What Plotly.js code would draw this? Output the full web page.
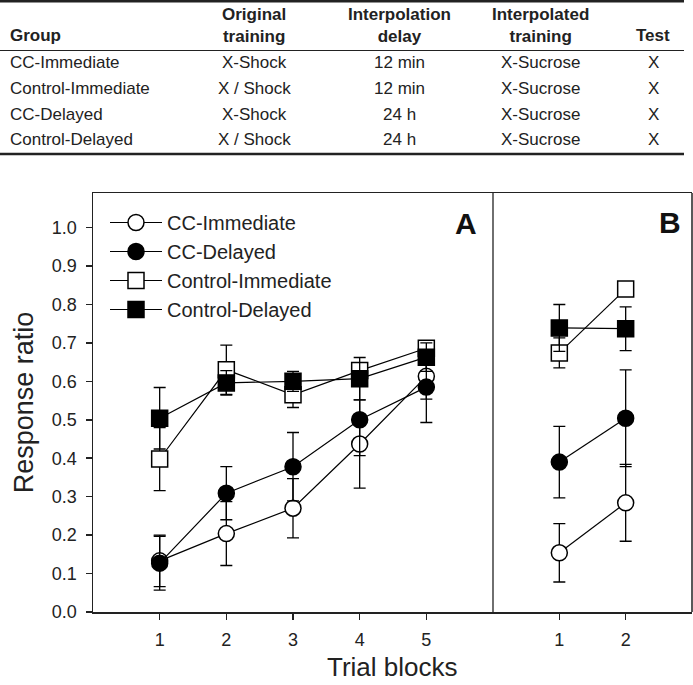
<!DOCTYPE html>
<html>
<head>
<meta charset="utf-8">
<script src="https://cdn.plot.ly/plotly-3.0.1.min.js"></script>
<style>html,body{margin:0;padding:0;background:#fff;}#chart{width:693px;height:685px;}</style>
</head>
<body>
<div id="chart"></div>
<script>
// ---------- Table data ----------
var tableHeaders = ["Group", "Original<br>training", "Interpolation<br>delay", "Interpolated<br>training", "Test"];
var groups = ["CC-Immediate", "Control-Immediate", "CC-Delayed", "Control-Delayed"];
var originalTraining = ["X-Shock", "X / Shock", "X-Shock", "X / Shock"];
var interpolationDelay = ["12 min", "12 min", "24 h", "24 h"];
var interpolatedTraining = ["X-Sucrose", "X-Sucrose", "X-Sucrose", "X-Sucrose"];
var testCol = ["X", "X", "X", "X"];

// ---------- Chart data ----------
var seriesNames = ["CC-Immediate", "CC-Delayed", "Control-Immediate", "Control-Delayed"];
var blocksA = [1, 2, 3, 4, 5];
var blocksB = [1, 2];
var xTickLabelsA = ["1", "2", "3", "4", "5"];
var xTickLabelsB = ["1", "2"];
var yTickVals = [0, 0.1, 0.2, 0.3, 0.4, 0.5, 0.6, 0.7, 0.8, 0.9, 1.0];

var ccImmA = [0.133, 0.204, 0.270, 0.437, 0.613];
var ccImmAErr = [0.067, 0.083, 0.077, 0.115, 0.059];
var ccDelA = [0.127, 0.309, 0.378, 0.500, 0.585];
var ccDelAErr = [0.070, 0.069, 0.089, 0.093, 0.092];
var ctrlImmA = [0.398, 0.630, 0.565, 0.628, 0.686];
var ctrlImmAErr = [0.082, 0.064, 0.033, 0.015, 0.014];
var ctrlDelA = [0.504, 0.596, 0.600, 0.607, 0.663];
var ctrlDelAErr = [0.080, 0.032, 0.026, 0.055, 0.037];

var ccImmB = [0.154, 0.284];
var ccImmBErr = [0.076, 0.100];
var ccDelB = [0.390, 0.504];
var ccDelBErr = [0.093, 0.126];
var ctrlImmB = [0.674, 0.840];
var ctrlImmBErr = [0.039, 0.015];
var ctrlDelB = [0.739, 0.737];
var ctrlDelBErr = [0.061, 0.057];

// ---------- Layout helpers ----------
var FONT = "Liberation Sans, Arial, Helvetica, sans-serif";
var W = 693, H = 685, ML = 93, MR = 1, MT = 193, MB = 73;
var PW = W - ML - MR, PH = H - MT - MB;
function px(x) { return (x - ML) / PW; }
function py(y) { return 1 - (y - MT) / PH; }

var styles = [
  {symbol: "circle", color: "#ffffff"},
  {symbol: "circle", color: "#000000"},
  {symbol: "square", color: "#ffffff"},
  {symbol: "square", color: "#000000"}
];
var dataA = [ccImmA, ccDelA, ctrlImmA, ctrlDelA];
var errA = [ccImmAErr, ccDelAErr, ctrlImmAErr, ctrlDelAErr];
var dataB = [ccImmB, ccDelB, ctrlImmB, ctrlDelB];
var errB = [ccImmBErr, ccDelBErr, ctrlImmBErr, ctrlDelBErr];

function mkTrace(i, xs, ys, es, xaxis, showLegend) {
  return {
    type: "scatter", mode: "lines+markers",
    x: xs, y: ys, xaxis: xaxis, yaxis: "y",
    name: seriesNames[i], showlegend: showLegend, legendgroup: seriesNames[i],
    line: {color: "#000", width: 1.2},
    marker: {symbol: styles[i].symbol, size: 16, color: styles[i].color, line: {color: "#000", width: 1.5}},
    error_y: {type: "data", array: es, visible: true, color: "#000", thickness: 1.3, width: 6},
    cliponaxis: false
  };
}
var traces = [];
for (var i = 0; i < 4; i++) traces.push(mkTrace(i, blocksA, dataA[i], errA[i], "x", true));
for (var j = 0; j < 4; j++) traces.push(mkTrace(j, blocksB, dataB[j], errB[j], "x2", false));

// ---------- Table annotations & rules ----------
var annotations = [];
var colX = [8, 254, 399, 540, 653];
var colAnchor = ["left", "center", "center", "center", "center"];
var headerY = [36, 25.5, 25.5, 25.5, 36];
for (var c = 0; c < tableHeaders.length; c++) {
  annotations.push({xref: "paper", yref: "paper", x: px(colX[c]), y: py(headerY[c]),
    xanchor: colAnchor[c], yanchor: "middle", showarrow: false, align: "center",
    text: "<b>" + tableHeaders[c] + "</b>", font: {family: FONT, size: 17, color: "#222"}});
}
var rowY = [62.5, 88.5, 114.5, 140];
var cols = [groups, originalTraining, interpolationDelay, interpolatedTraining, testCol];
for (var r = 0; r < groups.length; r++) {
  for (var k = 0; k < cols.length; k++) {
    annotations.push({xref: "paper", yref: "paper", x: px(colX[k]), y: py(rowY[r]),
      xanchor: colAnchor[k], yanchor: "middle", showarrow: false,
      text: cols[k][r], font: {family: FONT, size: 17, color: "#222"}});
  }
}
// panel letters and x title
annotations.push({xref: "paper", yref: "paper", x: px(466), y: py(223), xanchor: "center", yanchor: "middle",
  showarrow: false, text: "<b>A</b>", font: {family: FONT, size: 30, color: "#111"}});
annotations.push({xref: "paper", yref: "paper", x: px(670), y: py(222), xanchor: "center", yanchor: "middle",
  showarrow: false, text: "<b>B</b>", font: {family: FONT, size: 30, color: "#111"}});
annotations.push({xref: "paper", yref: "paper", x: 0.5, y: py(667), xanchor: "center", yanchor: "middle",
  showarrow: false, text: "Trial blocks", font: {family: FONT, size: 26, color: "#222"}});

var splitA = px(493);
var shapes = [
  {type: "line", xref: "paper", yref: "paper", x0: px(0), x1: px(684), y0: py(1.3), y1: py(1.3), line: {color: "#222", width: 2.6}},
  {type: "line", xref: "paper", yref: "paper", x0: px(0), x1: px(684), y0: py(50.5), y1: py(50.5), line: {color: "#222", width: 1.2}},
  {type: "line", xref: "paper", yref: "paper", x0: px(0), x1: px(684), y0: py(154), y1: py(154), line: {color: "#222", width: 2.6}},
  // panel divider and right frame edge
  {type: "line", xref: "paper", yref: "paper", x0: splitA, x1: splitA, y0: 0, y1: 1, line: {color: "#222", width: 1.3}},
  {type: "line", xref: "paper", yref: "paper", x0: 1, x1: 1, y0: 0, y1: 1, line: {color: "#222", width: 1.5}}
];

var axisCommon = {
  showline: true, linecolor: "#222", linewidth: 1.5,
  ticks: "outside", ticklen: 6, tickwidth: 1.5, tickcolor: "#222",
  showgrid: false, zeroline: false, fixedrange: true,
  tickfont: {family: FONT, size: 18, color: "#222"}
};

var layout = {
  width: W, height: H,
  margin: {l: ML, r: MR, t: MT, b: MB},
  paper_bgcolor: "#fff", plot_bgcolor: "#fff",
  showlegend: true,
  legend: {x: px(105), y: py(203), xanchor: "left", yanchor: "top", bgcolor: "rgba(0,0,0,0)",
    font: {family: FONT, size: 20, color: "#222"}, itemwidth: 52, tracegroupgap: 0},
  xaxis: Object.assign({}, axisCommon, {domain: [0, splitA], range: [0, 6], anchor: "y", mirror: true,
    tickvals: blocksA, ticktext: xTickLabelsA, ticklabelstandoff: 5}),
  xaxis2: Object.assign({}, axisCommon, {domain: [splitA, 1], range: [0, 3], anchor: "y", mirror: true,
    tickvals: blocksB, ticktext: xTickLabelsB, ticklabelstandoff: 5}),
  yaxis: Object.assign({}, axisCommon, {domain: [0, 1], range: [0, 1.09], anchor: "x", mirror: false,
    tickvals: yTickVals, tickformat: ".1f", ticklabelstandoff: 5,
    title: {text: "Response ratio", font: {family: FONT, size: 27, color: "#222"}, standoff: 10}}),
  annotations: annotations,
  shapes: shapes
};

Plotly.newPlot("chart", traces, layout, {displayModeBar: false, staticPlot: true});
</script>
</body>
</html>
